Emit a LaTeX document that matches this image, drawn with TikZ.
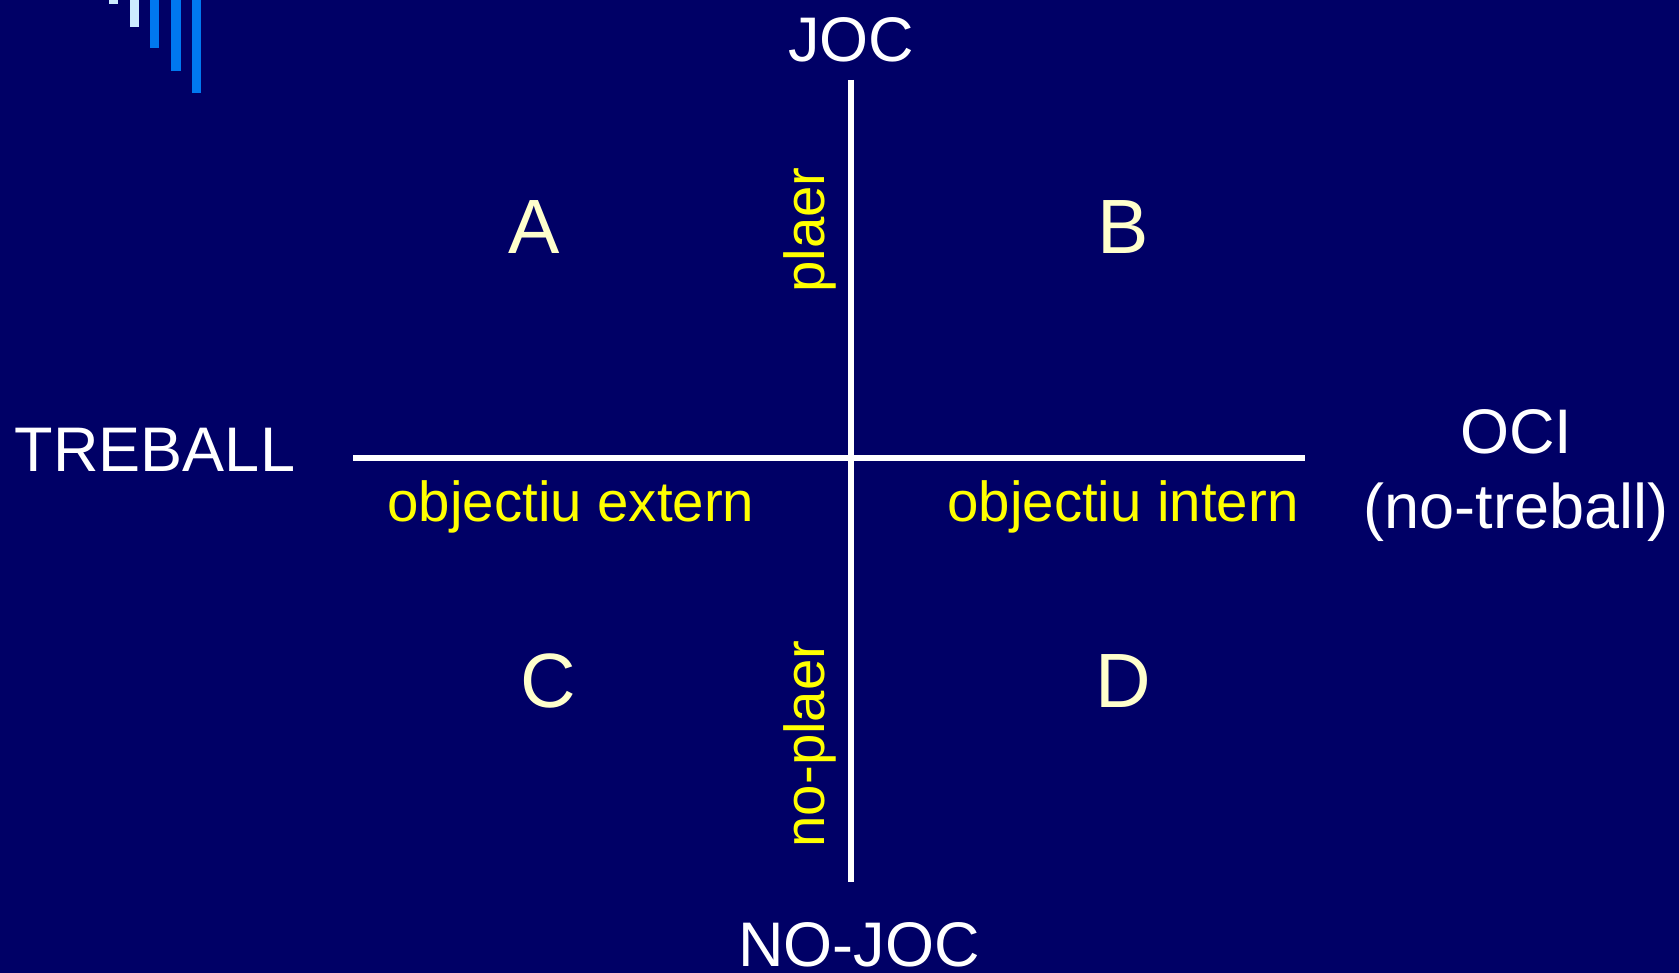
\documentclass[tikz,border=0pt]{standalone}
\usepackage{fontspec}
\setmainfont{Liberation Sans}
\definecolor{bgblue}{RGB}{0,0,102}
\definecolor{barlight}{RGB}{204,236,255}
\definecolor{barblue}{RGB}{0,120,240}
\definecolor{cream}{RGB}{255,255,204}
\definecolor{labyellow}{RGB}{255,255,0}
\begin{document}
\begin{tikzpicture}[x=0.5pt,y=-0.5pt,
  axis/.style={draw=white,line width=3.3pt},
  pole/.style={text=white,font=\fontsize{31.5}{36}\selectfont,inner sep=0pt,anchor=base},
  quad/.style={text=cream,font=\fontsize{38.5}{44}\selectfont,inner sep=0pt,anchor=base},
  tag/.style={text=labyellow,font=\fontsize{28.2}{32}\selectfont,inner sep=0pt,anchor=base},
  bar/.style={draw=none}]
\useasboundingbox (0,0) rectangle (1679,973);
\fill[bgblue] (0,0) rectangle (1679,973);
% corner bars
\fill[barlight] (109,0) rectangle (118,4);
\fill[barlight] (130,0) rectangle (139,27);
\fill[barblue] (150,0) rectangle (159,48);
\fill[barblue] (171,0) rectangle (181,71);
\fill[barblue] (192,0) rectangle (201,93);
% axes
\coordinate (vtop) at (851,80);
\coordinate (vbot) at (851,882);
\coordinate (hleft) at (353,458);
\coordinate (hright) at (1305,458);
\draw[axis] (vtop) -- (vbot);
\draw[axis] (hleft) -- (hright);
% pole labels
\node[pole] (joc) at (851,62) {JOC};
\node[pole] (nojoc) at (859,966) {NO-JOC};
\node[pole] (treball) at (155,471) {TREBALL};
\node[pole] (oci) at (1516,453) {OCI};
\node[pole] (notreball) at (1516,528) {(no-treball)};
% quadrant letters
\node[quad] (qa) at (534,253) {A};
\node[quad] (qb) at (1123,253) {B};
\node[quad] (qc) at (548,707) {C};
\node[quad] (qd) at (1123,707) {D};
% yellow tags
\node[tag] (ext) at (571,521) {objectiu extern};
\node[tag] (int) at (1123,521) {objectiu intern};
\node[tag,rotate=90] (plaer) at (824,230) {plaer};
\node[tag,rotate=90] (noplaer) at (824,744) {no-plaer};
\end{tikzpicture}
\end{document}
